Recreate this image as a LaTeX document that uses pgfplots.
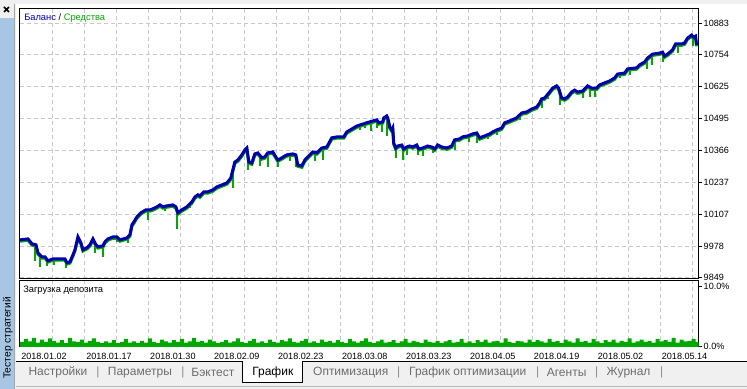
\documentclass[border=0pt]{standalone}
\usepackage{pgfplots}
\pgfplotsset{compat=1.18}
\usepackage{pgfplotstable}
\usepackage{fontspec}
\setmainfont{Liberation Sans}
\definecolor{bal}{RGB}{0,0,175}
\definecolor{eq}{RGB}{0,168,0}
\definecolor{gridc}{RGB}{200,200,200}
\definecolor{bgc}{RGB}{240,240,240}
\definecolor{stripc}{RGB}{166,198,228}
\definecolor{tabtxt}{RGB}{109,109,109}
\definecolor{sepc}{RGB}{140,140,140}

\pgfplotstableread{
x y
0 10003
8 10007
12 9987
16 9983
18 9950
22 9934
25 9934
28 9918
33 9926
40 9926
45 9926
47 9910
50 9914
53 9942
55 9963
58 10015
61 9991
63 9963
67 9971
70 9983
73 10007
76 9983
78 9975
83 9979
85 9995
88 10007
93 10015
97 10015
100 10003
107 10011
110 10023
112 10064
114 10076
117 10096
121 10113
126 10125
130 10125
133 10129
137 10137
140 10145
143 10137
147 10141
153 10145
156 10137
158 10113
162 10125
167 10137
172 10157
175 10177
178 10186
180 10181
184 10198
188 10198
193 10206
197 10218
202 10226
207 10234
211 10254
213 10287
215 10319
218 10327
222 10348
225 10368
227 10376
229 10319
232 10315
235 10352
238 10356
242 10336
245 10340
248 10356
253 10360
256 10340
258 10327
262 10336
267 10348
273 10352
276 10348
278 10307
282 10303
285 10327
290 10348
293 10360
297 10356
302 10376
307 10380
312 10417
317 10421
324 10421
327 10441
332 10453
337 10465
343 10473
350 10482
357 10490
359 10478
363 10482
364 10498
367 10506
368 10498
370 10461
372 10449
373 10457
374 10396
376 10376
378 10384
382 10388
384 10372
387 10380
390 10384
393 10380
397 10388
399 10372
403 10376
408 10384
412 10380
415 10372
418 10388
422 10380
427 10376
432 10384
435 10409
440 10413
443 10421
448 10425
453 10433
457 10437
460 10417
465 10425
470 10433
473 10441
477 10449
482 10457
485 10478
490 10486
497 10498
502 10518
507 10522
512 10534
517 10542
520 10559
522 10575
525 10579
530 10603
533 10619
537 10628
539 10619
542 10579
545 10575
548 10583
552 10603
555 10611
558 10603
563 10607
568 10628
572 10619
577 10619
580 10632
585 10640
590 10648
595 10660
598 10676
605 10680
608 10697
617 10701
620 10713
625 10725
628 10741
633 10757
640 10761
643 10765
645 10749
648 10757
653 10774
656 10798
662 10798
665 10802
668 10822
672 10834
674 10826
676 10830
677 10794
}\balancedata

\pgfplotsset{
  mtaxis/.style={
    anchor=north west, scale only axis, width=509.25pt,
    xmin=0, xmax=679,
    axis line style={black, line width=0.75pt},
    xtick={0,33,65,97,129,161,193,225,257,289,321,353,385,417,449,481,513,545,577,609,641,673},
    grid style={gridc, dash pattern=on 3pt off 2.25pt, line width=0.75pt},
    xmajorgrids=true,
    ytick pos=right,
    tick align=outside,
    major tick length=2.5pt,
    xtick style={/pgfplots/major tick length=0pt},
    ytick style={black, line width=0.75pt},
    tick label style={font=\fontsize{6.8pt}{8pt}\selectfont, text=black},
    yticklabel style={anchor=west, inner sep=0pt, xshift=1.2pt},
    scaled ticks=false,
    /pgf/number format/assume math mode=true,
  }
}

\begin{document}
\begin{tikzpicture}
\begin{scope}[x=0.75pt,y=-0.75pt]
\useasboundingbox (0,0) rectangle (747,389);
\fill[bgc] (0,0) rectangle (747,389);
\fill[white] (16,4) rectangle (747,361);
\fill[stripc] (0,18) rectangle (14,389);
\draw[gray!70, line width=0.75pt] (15,4) -- (15,389);
\draw[black, line width=1.1pt] (4,7) -- (9,12) (4,12) -- (9,7);
\end{scope}

\begin{axis}[mtaxis, at={(15pt,-6.75pt)}, height=202.5pt,
  ymin=9845, ymax=10940,
  ymajorgrids=true,
  ytick={9849,9978,10107,10237,10366,10495,10625,10754,10883},
  yticklabels={9849,9978,10107,10237,10366,10495,10625,10754,10883},
  xticklabels={}]
\addplot[eq, line width=2.25pt, yshift=-1pt] table[x=x,y=y] {\balancedata};
\addplot[eq, line width=1.5pt, unbounded coords=jump] coordinates {
(15,9985) (15,9918) (15,nan)
(20,9945) (20,9894) (20,nan)
(27,9922) (27,9898) (27,nan)
(34,9926) (34,9902) (34,nan)
(46,9920) (46,9890) (46,nan)
(75,9990) (75,9950) (75,nan)
(83,9979) (83,9934) (83,nan)
(97,10015) (97,9995) (97,nan)
(108,10013) (108,9991) (108,nan)
(128,10125) (128,10084) (128,nan)
(145,10139) (145,10121) (145,nan)
(157,10125) (157,10048) (157,nan)
(170,10150) (170,10133) (170,nan)
(213,10287) (213,10214) (213,nan)
(228,10340) (228,10287) (228,nan)
(240,10345) (240,10303) (240,nan)
(248,10356) (248,10299) (248,nan)
(258,10327) (258,10299) (258,nan)
(270,10350) (270,10323) (270,nan)
(276,10348) (276,10299) (276,nan)
(295,10358) (295,10323) (295,nan)
(303,10376) (303,10327) (303,nan)
(340,10468) (340,10449) (340,nan)
(345,10475) (345,10457) (345,nan)
(351,10482) (351,10445) (351,nan)
(357,10490) (357,10457) (357,nan)
(362,10481) (362,10441) (362,nan)
(367,10506) (367,10425) (367,nan)
(376,10376) (376,10336) (376,nan)
(383,10380) (383,10327) (383,nan)
(387,10380) (387,10348) (387,nan)
(398,10380) (398,10348) (398,nan)
(403,10376) (403,10344) (403,nan)
(413,10382) (413,10356) (413,nan)
(435,10409) (435,10368) (435,nan)
(449,10427) (449,10400) (449,nan)
(457,10437) (457,10396) (457,nan)
(468,10430) (468,10413) (468,nan)
(477,10449) (477,10429) (477,nan)
(500,10508) (500,10490) (500,nan)
(522,10575) (522,10538) (522,nan)
(528,10595) (528,10575) (528,nan)
(540,10610) (540,10551) (540,nan)
(557,10605) (557,10595) (557,nan)
(563,10607) (563,10579) (563,nan)
(570,10623) (570,10583) (570,nan)
(575,10619) (575,10583) (575,nan)
(600,10676) (600,10660) (600,nan)
(610,10690) (610,10672) (610,nan)
(627,10738) (627,10697) (627,nan)
(632,10755) (632,10713) (632,nan)
(643,10765) (643,10725) (643,nan)
(658,10798) (658,10761) (658,nan)
(673,10830) (673,10790) (673,nan)
};
\addplot[bal, line width=2.25pt] table[x=x,y=y] {\balancedata};
\end{axis}

\begin{axis}[mtaxis, at={(15pt,-210.75pt)}, height=49.5pt,
  ymin=0, ymax=11,
  ytick={0,10},
  yticklabels={0.0\%,10.0\%},
  xticklabels={2018.01.02,,2018.01.17,,2018.01.30,,2018.02.09,,2018.02.23,,2018.03.08,,2018.03.23,,2018.04.05,,2018.04.19,,2018.05.02,,2018.05.14,},
  xticklabel style={anchor=north west, inner sep=0pt, xshift=0.8pt, yshift=-2.4pt}]
\addplot[draw=none, fill=eq, const plot] table[x expr=\coordindex*4, y index=0, header=false, row sep=\\] {
0.8\\1.3\\0.9\\1.5\\0.7\\1.2\\0.8\\1.4\\1.0\\0.7\\
1.1\\0.6\\1.5\\0.9\\0.8\\1.2\\0.7\\1.0\\1.4\\0.8\\
0.6\\0.9\\0.7\\1.1\\0.6\\0.8\\1.3\\0.7\\0.9\\0.6\\
1.0\\0.7\\1.4\\0.8\\0.6\\1.2\\0.9\\0.7\\1.1\\0.8\\
1.3\\0.7\\0.9\\1.5\\0.8\\1.0\\0.7\\1.2\\0.9\\0.6\\
0.8\\1.1\\0.7\\0.9\\1.4\\0.8\\0.6\\1.0\\1.3\\0.7\\
0.9\\0.6\\1.2\\0.8\\0.7\\1.1\\0.9\\1.4\\0.8\\0.7\\
1.0\\1.3\\0.7\\0.9\\0.6\\1.2\\0.8\\1.0\\0.7\\1.1\\
0.8\\0.6\\1.3\\0.9\\0.7\\1.0\\1.4\\0.8\\0.6\\0.9\\
1.2\\0.7\\0.8\\1.1\\0.6\\0.9\\1.3\\0.7\\1.0\\0.8\\
0.6\\1.2\\0.8\\0.7\\1.0\\0.6\\0.9\\1.1\\0.7\\0.8\\
1.3\\0.7\\0.9\\0.6\\1.1\\0.8\\1.2\\0.7\\0.9\\1.0\\
0.7\\1.4\\0.8\\0.6\\1.0\\0.9\\0.7\\1.2\\0.8\\1.1\\
0.9\\0.7\\1.3\\0.8\\1.0\\0.6\\1.2\\0.9\\0.7\\1.4\\
0.8\\1.0\\0.7\\1.3\\0.9\\0.6\\1.1\\0.8\\1.2\\0.7\\
1.0\\0.8\\1.4\\0.7\\0.9\\1.2\\0.8\\1.0\\0.7\\1.3\\
0.9\\1.1\\0.8\\1.5\\0.7\\1.2\\0.9\\1.0\\1.3\\0.8\\0.8\\
} \closedcycle;
\end{axis}

\begin{scope}[x=0.75pt,y=-0.75pt]
\node[anchor=west, inner sep=0pt, font=\fontsize{7pt}{8pt}\selectfont] at (24,18)
  {\textcolor{bal}{Баланс} / \textcolor{eq}{Средства}};
\node[anchor=west, inner sep=0pt, font=\fontsize{7pt}{8pt}\selectfont] at (23,290) {Загрузка депозита};
\node[rotate=90, inner sep=0pt, font=\fontsize{7.7pt}{9pt}\selectfont] at (8,338) {Тестер стратегий};
% tabs
\fill[white] (243,361) rectangle (303,383);
\draw[black, line width=0.75pt] (16,361.5) -- (243,361.5) -- (243,383) -- (303,383) -- (303,361.5) -- (747,361.5);
\draw[gray!55, line width=0.75pt] (16,387) -- (747,387);
\begin{scope}[every node/.style={font=\fontsize{9pt}{10pt}\selectfont, inner sep=0pt}]
\node[tabtxt] at (58,373) {Настройки};
\node[sepc] at (98,373) {|};
\node[tabtxt] at (140,373) {Параметры};
\node[sepc] at (183,373) {|};
\node[tabtxt] at (213,373) {Бэктест};
\node[black] at (273,373) {График};
\node[tabtxt] at (351,373) {Оптимизация};
\node[sepc] at (399,373) {|};
\node[tabtxt] at (468,373) {График оптимизации};
\node[sepc] at (538,373) {|};
\node[tabtxt] at (567,373) {Агенты};
\node[sepc] at (597,373) {|};
\node[tabtxt] at (629,373) {Журнал};
\node[sepc] at (662,373) {|};
\end{scope}
\end{scope}
\end{tikzpicture}
\end{document}
